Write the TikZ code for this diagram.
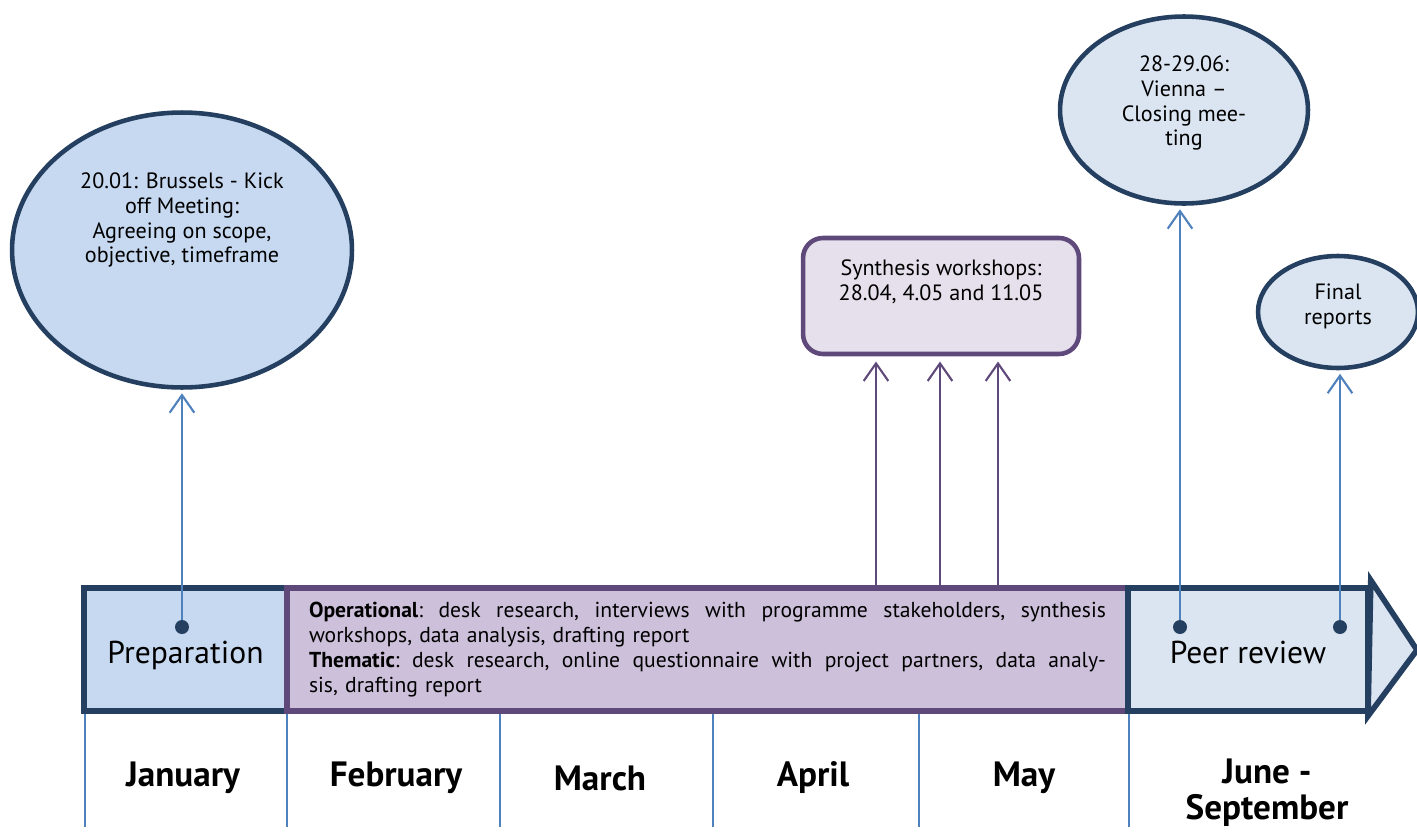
\documentclass[tikz,border=0pt]{standalone}
\usepackage{fontspec}
\setmainfont{PT Sans}
\usepackage{xcolor}
\usepackage{tikz}
\usetikzlibrary{arrows.meta,positioning,calc,shapes.geometric}
\definecolor{darkline}{HTML}{243F60}
\definecolor{prepfill}{HTML}{C6D9F0}
\definecolor{peerfill}{HTML}{DBE5F1}
\definecolor{opsfill}{HTML}{CCC0DA}
\definecolor{opsline}{HTML}{5F497A}
\definecolor{wsfill}{HTML}{E5E0EC}
\definecolor{tickblue}{HTML}{4F81BD}
\newcommand{\fullline}[1]{\makebox[15.94cm][s]{\frenchspacing\spaceskip=0pt\xspaceskip=0pt\relax #1}}

\begin{document}
\begin{tikzpicture}[x=0.02cm, y=-0.02cm,
    every node/.style={font=\fontsize{12.6}{14.2}\selectfont},
    meeting/.style={ellipse, draw=darkline, line width=2.6pt, inner sep=0pt},
    phase/.style={rectangle, draw=darkline, line width=3.2pt, inner sep=0pt,
        minimum height=2.46cm, text height=19pt, text depth=3pt,
        font=\fontsize{18}{21}\selectfont},
    month/.style={font=\fontsize{20}{20.5}\selectfont\bfseries, align=center},
    dot/.style={circle, fill=darkline, inner sep=0pt, minimum size=0.28cm},
    evarrow/.style={draw=tickblue, line width=1.2pt, shorten >=2pt,
        -{Straight Barb[length=10pt,width=14pt]}},
    wsarrow/.style={draw=opsline, line width=1.2pt, shorten >=3pt,
        -{Straight Barb[length=10pt,width=14pt]}}]
    \useasboundingbox (0,0) rectangle (1417,832);

    % month grid
    \foreach \x in {85,287,500,713,919,1129}
        \draw[tickblue, line width=1pt] (\x,711) -- (\x,827);
    \foreach \x/\m in {183/January,396/February,600/March,813/April,1024/May}
        \node[month] (m-\m) at (\x,778) {\m};
    \node[month] (m-June) at (1267,793) {June -\\September};

    % phases
    \node[phase, fill=prepfill, minimum width=4.06cm] (prep) at (185.5,649.5) {Preparation};
    \node[phase, draw=opsline, fill=opsfill, minimum width=16.82cm, text width=15.94cm,
        text height=, text depth=, align=left, font=\fontsize{12.3}{14.2}\selectfont]
        (ops) at (707.5,649.5)
        {\fullline{\textbf{Operational}: desk research, interviews with programme stakeholders, synthesis}\\
         workshops, data analysis, drafting report\\
         \fullline{\textbf{Thematic}: desk research, online questionnaire with project partners, data analy-}\\
         sis, drafting report};
    \node[phase, fill=peerfill, minimum width=4.8cm] (peer) at (1248,649.5) {Peer review};
    \draw[darkline, line width=3.2pt, fill=peerfill, line join=miter]
        (peer.north east) ++(0,-5) -- (1417,650) -- (1368,716) -- cycle;

    % events
    \node[meeting, fill=prepfill, minimum width=6.8cm, minimum height=5.5cm] (kickoff) at (182,250) {};
    \node[align=center] (kickoff-txt) at (182,220)
        {20.01: Brussels - Kick\\off Meeting:\\Agreeing on scope,\\objective, timeframe};
    \node[meeting, fill=peerfill, minimum width=4.96cm, minimum height=3.74cm] (closing) at (1184,110) {};
    \node[align=center] (closing-txt) at (1184,103) {28-29.06:\\Vienna --\\Closing mee-\\ting};
    \node[meeting, fill=peerfill, minimum width=3.2cm, minimum height=2.24cm] (final) at (1338,312) {};
    \node[align=center] (final-txt) at (1338,306) {Final\\reports};
    \node[draw=opsline, fill=wsfill, line width=2.6pt, rounded corners=0.4cm,
        minimum width=5.52cm, minimum height=2.32cm] (synth) at (941,296) {};
    \node[align=center] (synth-txt) at (941,282) {Synthesis workshops:\\28.04, 4.05 and 11.05};

    % connectors
    \node[dot] (d-prep) at (182,627) {};
    \node[dot] (d-closing) at (1180,627) {};
    \node[dot] (d-final) at (1340,627) {};
    \draw[evarrow] (d-prep) -- (d-prep |- kickoff.south);
    \draw[evarrow] (d-closing) -- (d-closing |- closing.south);
    \draw[evarrow] (d-final) -- (d-final |- final.south);
    \foreach \x in {876,940,998}
        \draw[wsarrow] (\x,0 |- ops.north) -- (\x,0 |- synth.south);
\end{tikzpicture}
\end{document}
